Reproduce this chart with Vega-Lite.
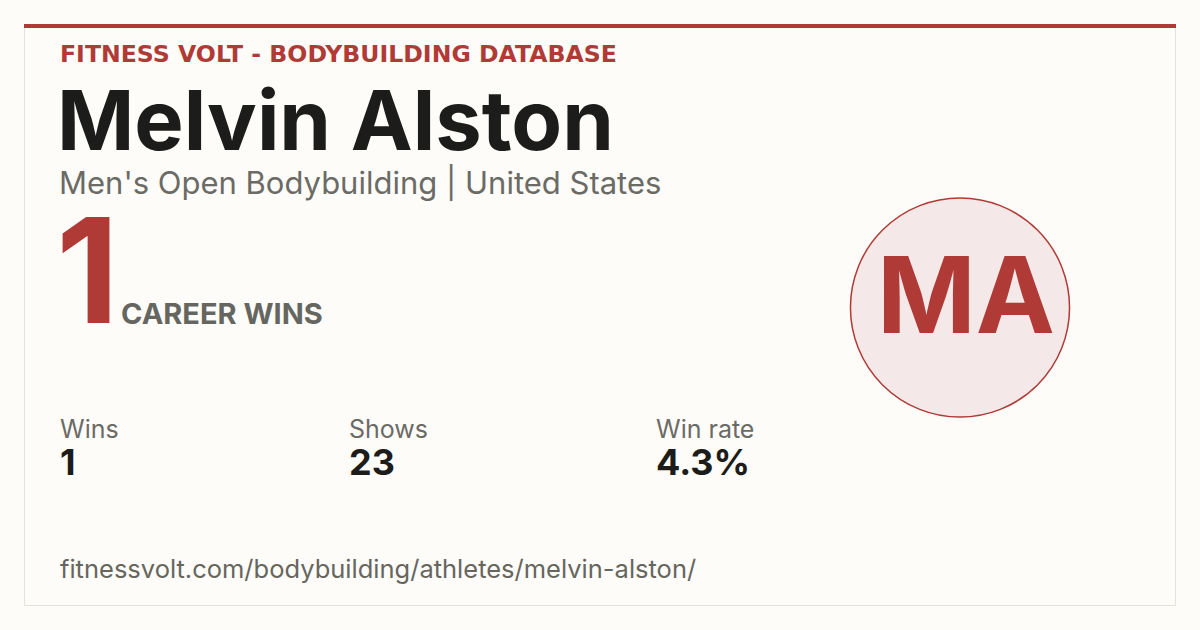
{
  "$schema": "https://vega.github.io/schema/vega-lite/v6.json",
  "width": 1200,
  "height": 630,
  "autosize": {"type": "fit", "contains": "padding"},
  "padding": 0,
  "background": "#fdfcf8",
  "config": {"view": {"stroke": null}, "text": {"font": "Inter", "baseline": "alphabetic", "align": "left"}},
  "datasets": {
    "card": [
      {"source": "FITNESS VOLT - BODYBUILDING DATABASE", "athlete": "Melvin Alston", "division": "Men's Open Bodybuilding | United States", "initials": "MA", "career_wins": "1", "career_label": "CAREER WINS", "url": "fitnessvolt.com/bodybuilding/athletes/melvin-alston/"}
    ],
    "stats": [
      {"stat": "Wins", "value": "1"},
      {"stat": "Shows", "value": "23"},
      {"stat": "Win rate", "value": "4.3%"}
    ]
  },
  "data": {"name": "card"},
  "layer": [
    {
      "mark": {"type": "rect", "fill": "#fdfcf8", "stroke": "#e4e2dc", "strokeWidth": 1},
      "encoding": {
        "x": {"datum": 24.5, "type": "quantitative", "scale": {"domain": [0, 1200], "nice": false, "zero": false}, "axis": null},
        "x2": {"datum": 1175.5},
        "y": {"datum": 24.5, "type": "quantitative", "scale": {"domain": [0, 630], "nice": false, "zero": false, "reverse": true}, "axis": null},
        "y2": {"datum": 605.5}
      }
    },
    {
      "mark": {"type": "rule", "stroke": "#b03a35", "strokeWidth": 4},
      "encoding": {
        "x": {"datum": 24, "type": "quantitative"},
        "x2": {"datum": 1176},
        "y": {"datum": 26, "type": "quantitative"}
      }
    },
    {
      "mark": {"type": "text", "font": "DejaVu Sans", "fontSize": 23.6, "fontWeight": 700, "fill": "#b03a35"},
      "encoding": {
        "x": {"datum": 60, "type": "quantitative"},
        "y": {"datum": 62, "type": "quantitative"},
        "text": {"field": "source"}
      }
    },
    {
      "mark": {"type": "text", "fontSize": 83, "fontWeight": 700, "fill": "#1c1c1a"},
      "encoding": {
        "x": {"datum": 57, "type": "quantitative"},
        "y": {"datum": 150, "type": "quantitative"},
        "text": {"field": "athlete"}
      }
    },
    {
      "mark": {"type": "text", "fontSize": 31, "fill": "#6b6b66"},
      "encoding": {
        "x": {"datum": 59, "type": "quantitative"},
        "y": {"datum": 194, "type": "quantitative"},
        "text": {"field": "division"}
      }
    },
    {
      "mark": {"type": "text", "fontSize": 146, "fontWeight": 700, "fill": "#b03a35"},
      "encoding": {
        "x": {"datum": 56, "type": "quantitative"},
        "y": {"datum": 323, "type": "quantitative"},
        "text": {"field": "career_wins"}
      }
    },
    {
      "mark": {"type": "text", "fontSize": 29, "fontWeight": 700, "fill": "#666661"},
      "encoding": {
        "x": {"datum": 121, "type": "quantitative"},
        "y": {"datum": 324, "type": "quantitative"},
        "text": {"field": "career_label"}
      }
    },
    {
      "mark": {"type": "point", "shape": "circle", "filled": true, "fill": "#f4e8e8", "stroke": "#b03a35", "strokeWidth": 1.5, "opacity": 1, "size": 48000},
      "encoding": {
        "x": {"datum": 960, "type": "quantitative"},
        "y": {"datum": 307.5, "type": "quantitative"}
      }
    },
    {
      "mark": {"type": "text", "fontSize": 106, "fontWeight": 700, "fill": "#b03a35", "align": "center"},
      "encoding": {
        "x": {"datum": 966, "type": "quantitative"},
        "y": {"datum": 333, "type": "quantitative"},
        "text": {"field": "initials"}
      }
    },
    {
      "data": {"name": "stats"},
      "transform": [{"filter": "datum.stat === 'Wins'"}],
      "layer": [
        {"mark": {"type": "text", "fontSize": 25, "fill": "#6b6b66"},
         "encoding": {"x": {"datum": 60, "type": "quantitative"}, "y": {"datum": 438, "type": "quantitative"}, "text": {"field": "stat"}}},
        {"mark": {"type": "text", "fontSize": 36, "fontWeight": 700, "fill": "#1c1c1a"},
         "encoding": {"x": {"datum": 60, "type": "quantitative"}, "y": {"datum": 475, "type": "quantitative"}, "text": {"field": "value"}}}
      ]
    },
    {
      "data": {"name": "stats"},
      "transform": [{"filter": "datum.stat === 'Shows'"}],
      "layer": [
        {"mark": {"type": "text", "fontSize": 25, "fill": "#6b6b66"},
         "encoding": {"x": {"datum": 349, "type": "quantitative"}, "y": {"datum": 438, "type": "quantitative"}, "text": {"field": "stat"}}},
        {"mark": {"type": "text", "fontSize": 36, "fontWeight": 700, "fill": "#1c1c1a"},
         "encoding": {"x": {"datum": 349, "type": "quantitative"}, "y": {"datum": 475, "type": "quantitative"}, "text": {"field": "value"}}}
      ]
    },
    {
      "data": {"name": "stats"},
      "transform": [{"filter": "datum.stat === 'Win rate'"}],
      "layer": [
        {"mark": {"type": "text", "fontSize": 25, "fill": "#6b6b66"},
         "encoding": {"x": {"datum": 656, "type": "quantitative"}, "y": {"datum": 438, "type": "quantitative"}, "text": {"field": "stat"}}},
        {"mark": {"type": "text", "fontSize": 36, "fontWeight": 700, "fill": "#1c1c1a"},
         "encoding": {"x": {"datum": 656, "type": "quantitative"}, "y": {"datum": 475, "type": "quantitative"}, "text": {"field": "value"}}}
      ]
    },
    {
      "mark": {"type": "text", "fontSize": 25.5, "fill": "#66665f"},
      "encoding": {
        "x": {"datum": 60, "type": "quantitative"},
        "y": {"datum": 578, "type": "quantitative"},
        "text": {"field": "url"}
      }
    }
  ]
}
